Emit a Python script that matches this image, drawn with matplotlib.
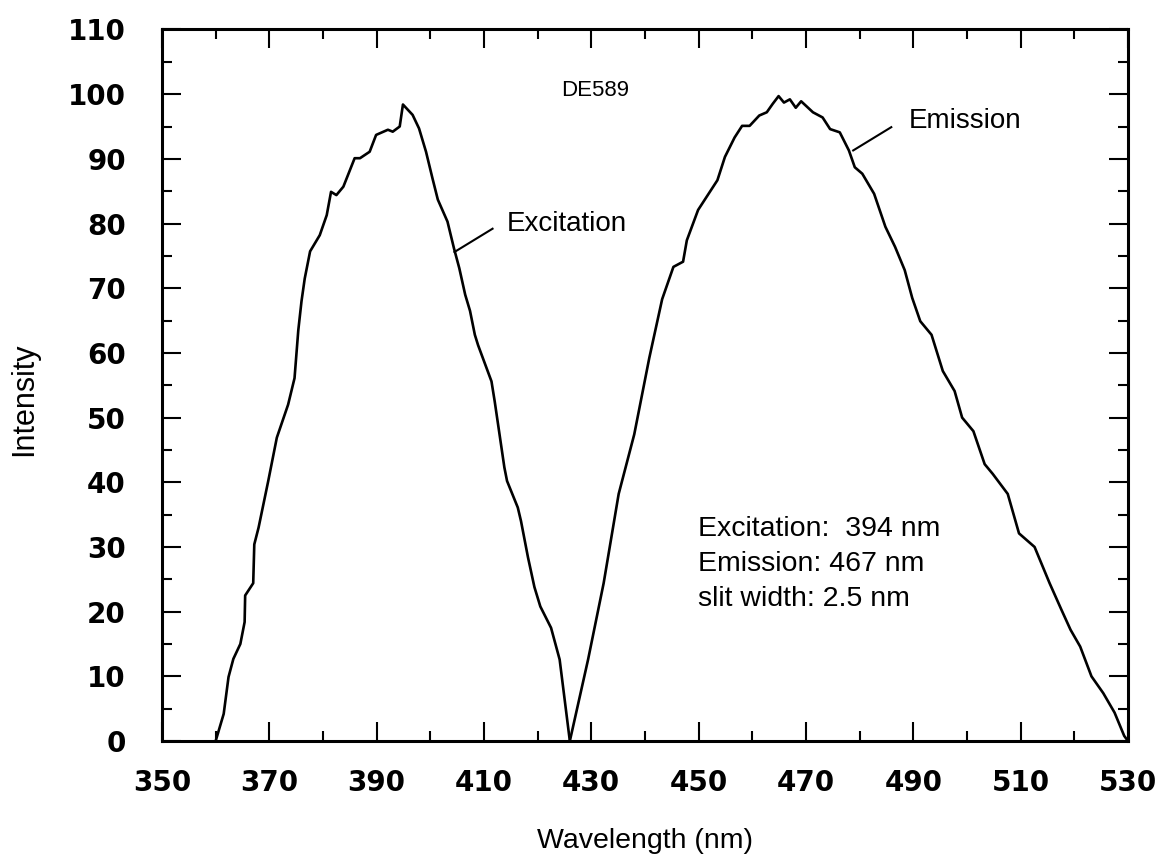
import matplotlib
matplotlib.use('Agg')
import matplotlib.pyplot as plt
from matplotlib.ticker import MultipleLocator

# excitation scan (nm, intensity)
ex_wl = [360.0, 361.5, 362.4, 363.3, 364.6, 365.4, 365.5, 367.0, 367.2, 368.0,
         369.8, 371.4, 373.5, 374.7, 375.4, 376.0, 376.6, 377.6, 379.4, 380.7,
         381.5, 382.5, 383.8, 385.9, 386.9, 388.7, 389.9, 392.1, 393.0, 394.3,
         394.9, 396.7, 397.9, 399.2, 400.4, 401.4, 403.2, 404.4, 405.4, 406.5,
         407.4, 408.3, 408.9, 411.4, 412.0, 413.8, 414.3, 416.3, 416.9, 418.2,
         419.4, 420.5, 422.5, 424.1, 426.0]
ex_int = [0.0, 4.2, 9.9, 12.7, 15.0, 18.4, 22.5, 24.4, 30.4, 33.0,
          40.2, 46.9, 52.0, 56.1, 63.5, 68.0, 71.5, 75.7, 78.2, 81.3,
          84.9, 84.4, 85.7, 90.1, 90.1, 91.1, 93.7, 94.5, 94.2, 95.0,
          98.4, 96.8, 94.7, 91.1, 87.0, 83.7, 80.3, 76.2, 73.1, 69.0,
          66.5, 62.8, 61.2, 55.6, 52.5, 42.3, 40.2, 36.1, 34.0, 28.4,
          23.8, 20.8, 17.5, 12.6, 0.0]

# emission scan (nm, intensity)
em_wl = [426.0, 429.4, 432.3, 435.1, 438.0, 440.8, 443.2, 445.3, 447.1, 447.8,
         449.9, 453.5, 454.9, 456.7, 458.1, 459.5, 461.3, 462.7, 463.8, 464.9,
         465.9, 467.0, 468.1, 469.1, 471.3, 473.1, 474.5, 476.3, 478.0, 479.1,
         480.5, 482.7, 484.8, 486.6, 488.4, 489.8, 491.3, 493.4, 495.5, 497.7,
         499.1, 501.2, 503.3, 504.8, 507.6, 509.7, 512.6, 515.4, 517.6, 519.3,
         521.1, 523.2, 525.4, 527.5, 529.3, 530.0]
em_int = [0.0, 12.6, 24.4, 38.2, 47.4, 59.2, 68.3, 73.3, 74.1, 77.4,
          82.1, 86.7, 90.3, 93.3, 95.1, 95.1, 96.7, 97.2, 98.5, 99.7,
          98.7, 99.2, 97.9, 98.9, 97.2, 96.4, 94.6, 94.1, 91.3, 88.7,
          87.7, 84.6, 79.5, 76.4, 72.8, 68.5, 64.9, 62.8, 57.2, 54.1,
          50.0, 47.9, 42.8, 41.3, 38.2, 32.1, 30.0, 24.4, 20.3, 17.2,
          14.6, 10.0, 7.4, 4.4, 0.8, 0.0]

x_ticks = [350, 370, 390, 410, 430, 450, 470, 490, 510, 530]
y_ticks = [0, 10, 20, 30, 40, 50, 60, 70, 80, 90, 100, 110]

info_lines = ['Excitation:  394 nm', 'Emission: 467 nm', 'slit width: 2.5 nm']

txt_font = 'Liberation Sans'

fig = plt.figure(figsize=(11.62, 8.67), dpi=100)
ax = fig.add_axes([0.1394, 0.1453, 0.8313, 0.8207])

ax.plot(ex_wl, ex_int, color='black', lw=1.9)
ax.plot(em_wl, em_int, color='black', lw=1.9)

ax.set_xlim(350, 530)
ax.set_ylim(0, 110)
ax.set_xticks(x_ticks)
ax.set_yticks(y_ticks)
ax.xaxis.set_minor_locator(MultipleLocator(10))
ax.yaxis.set_minor_locator(MultipleLocator(5))

ax.tick_params(which='both', direction='in', top=True, right=True, width=1.5)
ax.tick_params(which='major', length=14)
ax.tick_params(which='minor', length=7)
ax.tick_params(axis='x', which='major', pad=20)
ax.tick_params(axis='y', which='major', pad=26)
for lab in ax.get_xticklabels() + ax.get_yticklabels():
    lab.set_fontfamily('DejaVu Sans')
    lab.set_fontweight('bold')
    lab.set_fontsize(20)

for sp in ax.spines.values():
    sp.set_linewidth(2.2)

ax.set_xlabel('Wavelength (nm)', fontsize=20.5, family=txt_font)
ax.xaxis.set_label_coords(0.5, -0.122)
ax.set_ylabel('Intensity', fontsize=22, family=txt_font, va='center', ha='center')
ax.yaxis.set_label_coords(-0.143, 0.48)

# curve labels with leader lines
ax.plot([404.5, 411.6], [75.6, 79.2], color='black', lw=1.5)
ax.text(414.3, 79.9, 'Excitation', fontsize=20, family=txt_font, va='center', ha='left')
ax.plot([478.8, 485.9], [91.3, 94.9], color='black', lw=1.5)
ax.text(489.1, 95.9, 'Emission', fontsize=20, family=txt_font, va='center', ha='left')

ax.text(424.4, 100.6, 'DE589', fontsize=16, family=txt_font, va='center', ha='left')

info_y = [32.8, 27.4, 22.0]
for s, yy in zip(info_lines, info_y):
    ax.text(449.8, yy, s, fontsize=20.5, family=txt_font, va='center', ha='left')

plt.savefig('out.png', dpi=100)
